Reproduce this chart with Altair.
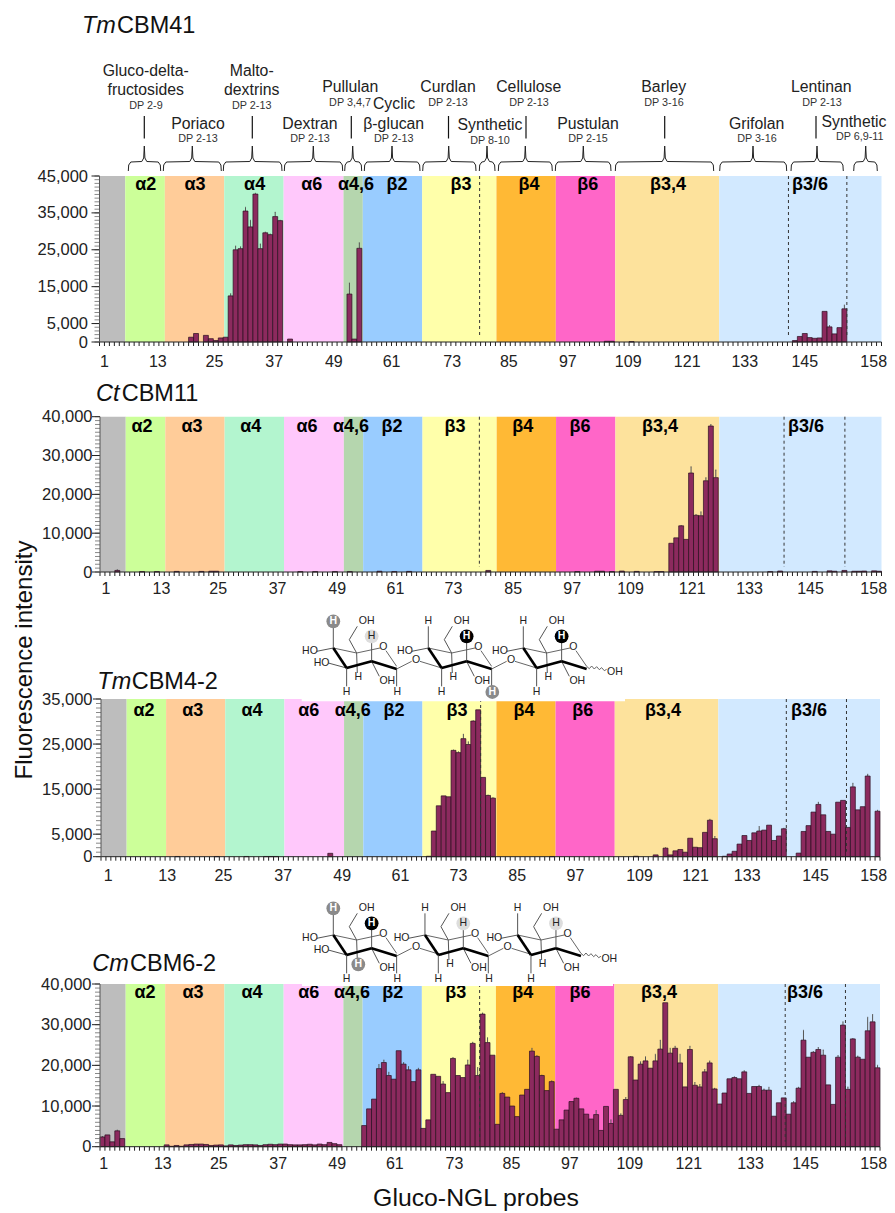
import altair as alt
import pandas as pd

FONT = "Liberation Sans"
W, H = 879, 1204
M = 8  # page margin

# ---------- values (thousands of RFU) ----------
tm41 = {19:1.3,20:2.3,22:1.8,23:0.9,24:0.4,25:1.1,26:1.3,27:12.5,28:25.0,29:25.3,30:35.5,31:31.2,32:40.1,
        33:25.3,34:29.6,35:29.1,36:34.0,37:32.9,39:0.8,51:13.0,52:0.8,53:25.4,103:0.2,104:0.2,108:0.1,
        141:0.4,142:1.5,143:2.3,144:1.2,145:1.0,146:1.1,147:8.3,148:4.1,149:2.2,150:3.9,151:9.0}
tm41_err = {27:0.6,28:1.0,29:0.5,30:1.0,31:1.8,32:0.2,33:1.3,34:0.2,35:0.2,36:1.2,37:0.1,51:3.0,53:1.5,148:0.4,151:1.0}

ct11 = {4:0.4,9:0.1,12:0.1,16:0.15,21:0.15,23:0.2,24:0.2,41:0.1,44:0.1,48:0.1,51:0.1,57:0.2,60:0.1,63:0.15,
        79:0.4,97:0.1,101:0.2,102:0.2,104:0.1,106:0.25,109:0.15,113:0.1,114:0.1,116:7.4,117:8.8,118:11.9,119:8.4,120:25.5,
        121:14.6,122:14.5,123:23.5,124:37.6,125:24.3,136:0.1,138:0.25,145:0.15,148:0.3,149:0.2,151:0.4,
        153:0.2,154:0.2,155:0.25,157:0.3,158:0.2}
ct11_err = {118:0.1,120:1.6,121:0.2,122:1.0,123:0.8,124:0.4,125:2.0,4:0.2}

tm42 = {16:0.05,24:0.05,30:0.05,34:0.05,35:0.05,36:0.05,47:0.75,67:0.1,68:5.7,69:11.3,70:13.5,71:13.3,72:23.6,73:23.1,74:26.2,
        75:24.9,76:30.1,77:32.6,78:17.6,79:13.6,80:13.0,92:0.05,109:0.1,113:0.4,115:1.9,116:0.4,117:1.3,118:1.6,
        119:1.0,120:4.1,121:2.1,122:2.0,123:5.4,124:8.1,125:4.0,127:0.1,128:0.6,129:1.2,130:2.8,131:4.7,132:3.6,
        133:5.3,134:5.7,135:5.9,136:7.0,137:3.6,138:4.6,139:6.2,142:0.8,143:5.6,144:6.9,145:9.9,146:11.6,
        147:9.3,148:5.6,149:5.0,150:12.1,151:12.5,152:6.5,153:15.5,154:10.4,155:11.1,156:17.9,158:10.1}
tm42_err = {72:0.1,73:0.2,74:1.0,75:0.6,76:0.1,79:0.1,80:0.1,115:0.1,124:0.2,125:0.5,134:1.0,139:0.1,146:0.5,
            153:0.8,156:0.4,158:0.2}

cm62 = [2.4,2.9,1.2,3.9,2.0,0,0,0,0,0,0,0,0,0.45,0.1,0.3,0.1,0.45,0.55,0.65,
        0.65,0.55,0.3,0.4,0.45,0.2,0.45,0.3,0.4,0.5,0.5,0.45,0.3,0.5,0.6,0.5,0.65,0.65,0.5,0.45,
        0.45,0.5,0.6,0.45,0.65,0.5,1.05,0.75,0.5,0,0,0,0,5.2,9.3,11.7,19.2,20.7,17.5,16.6,
        23.6,20.3,18.9,16.0,18.9,4.5,6.6,17.8,17.3,15.4,13.3,21.7,17.5,17.0,20.1,25.4,17.5,32.6,25.6,22.5,
        5.5,13.1,12.2,10.0,7.4,12.7,14.1,23.5,22.2,17.5,13.8,16.0,4.3,6.6,9.0,11.1,11.9,9.3,8.0,6.8,
        7.9,4.0,9.9,5.7,14.1,7.7,11.6,22.1,16.4,20.3,21.1,19.3,21.1,24.0,35.4,23.0,24.2,20.6,14.7,23.9,
        15.1,14.7,18.4,20.6,14.2,10.5,13.2,16.7,17.0,16.7,18.4,13.1,14.8,14.8,13.9,13.9,7.5,10.8,12.0,8.0,
        10.8,14.4,26.2,22.0,23.2,23.9,22.5,15.2,10.4,22.0,29.9,14.1,26.5,22.0,21.5,28.5,30.7,19.4]
cm62_err = {1:0.1,4:0.2,57:1.0,58:0.6,59:0.8,62:0.4,63:0.8,65:0.4,70:0.6,72:0.2,75:1.2,76:0.3,77:2.0,78:0.3,79:1.2,
            82:0.2,88:0.7,89:0.2,90:0.1,92:0.2,97:0.1,101:1.0,104:0.9,106:0.4,107:0.5,108:0.1,110:0.6,111:1.0,
            113:1.6,114:2.2,116:1.2,117:0.5,118:2.1,120:0.8,121:0.7,122:0.6,123:0.6,124:0.5,125:0.2,129:0.2,
            131:0.3,134:0.3,135:0.3,136:0.7,141:0.3,142:0.2,143:2.4,145:0.2,146:0.5,147:1.3,150:0.4,151:0.8,
            152:0.6,153:0.1,154:0.3,156:3.3,157:1.8,158:0.6}

band_edges = [0,5.2,13.2,25.2,37.2,49.3,53.2,65.2,80.2,92.2,104.2,125.2,158]
band_colors = ["#bdbdbd","#ccff99","#ffcc99","#b3f5cf","#ffc8fb","#b5d6ae","#99ccff","#ffffaa","#ffb935","#ff66c8","#fde29c","#d2e9ff"]
band_names = ["α2","α3","α4","α6","α4,6","β2","β3","β4","β6","β3,4","β3/6"]
tick_names = ["1","13","25","37","49","61","73","85","97","109","121","133","145","158"]

# ---------- layout of the four panels (page pixels) ----------
panels = [
 dict(name=("Tm","CBM41"), name_x=(82,117), name_y=33, x0=99.5, x1=881.5, top=176, bot=342, dom=45000, vals=tm41, err=tm41_err,
      majors=[0,5000,15000,25000,35000,45000], pad=4, lab_dy=19.7,
      lab_px=[99.5,157.3,214,273.7,333.3,391,451.7,508.3,567.3,627.7,686.7,744.3,804.3,873.2],
      band_px=[145.7,195,254.6,311.7,356,397,461,529,587.7,668,810], band_y=185, dash=[76.8,139.2,151]),
 dict(name=("Ct","CBM11"), name_x=(96,121.7), name_y=400.7, x0=100, x1=881.5, top=416.7, bot=572, dom=40000, vals=ct11, err=ct11_err,
      majors=[0,10000,20000,30000,40000], pad=0, lab_dy=16,
      lab_px=[101,161,217.7,277,336.7,395,453,512.7,571.7,630,691.7,749,810,873.2],
      band_px=[142,192,250.7,307,351,392,455,522.7,580,660,806], band_y=426.7, dash=[76.7,138.3,150.6]),
 dict(name=("Tm","CBM4-2"), name_x=(97.3,131.7), name_y=689, x0=101, x1=880, top=699, bot=856.7, dom=35000, vals=tm42, err=tm42_err,
      majors=[0,5000,15000,25000,35000], pad=1, lab_dy=18.3,
      lab_px=[107.7,166.7,223,282.7,341.7,400,458,516.7,575,639,695,746.7,815,873.2],
      band_px=[144,192.7,252,308.7,352.7,394,457,524,582.7,663,809], band_y=710.7, dash=[77,139,151.2]),
 dict(name=("Cm","CBM6-2"), name_x=(92.3,130), name_y=971, x0=100, x1=880, top=984, bot=1146.7, dom=40000, vals=cm62, err=cm62_err,
      majors=[0,10000,20000,30000,40000], pad=1, lab_dy=16.3,
      lab_px=[103.3,162.3,218.3,277.7,336.7,394.3,454,511,569.3,629.3,688.3,750,805,873.2],
      band_px=[145,193,252,308.7,352,392.7,455.7,522.7,580,659,805], band_y=993.3, dash=[76.9,138.8,151]),
]

# ---------- annotations at the top ----------
ann_big = [("Gluco-delta-",145.7,71),("fructosides",145.7,90),("Poriaco",198,123.7),("Malto-",251.7,71),("dextrins",251.7,90),
           ("Dextran",310,123.7),("Pullulan",350.3,87.3),("Cyclic",394,104.3),("β-glucan",393.7,123.7),("Curdlan",448,87.3),
           ("Synthetic",490,125),("Cellulose",528.7,87.3),("Pustulan",588,123.7),("Barley",663.7,87.3),("Grifolan",756.7,123.7),
           ("Lentinan",821.3,87.3),("Synthetic",854,122)]
ann_small = [("DP 2-9",146,105.5),("DP 2-13",198,139),("DP 2-13",251.7,105.5),("DP 2-13",310,139),("DP 3,4,7",350,103),
             ("DP 2-13",393.7,139),("DP 2-13",448,103),("DP 8-10",490,140.7),("DP 2-13",529,103),("DP 2-15",588,139),
             ("DP 3-16",664,103),("DP 3-16",757,139),("DP 2-13",822,103),("DP 6,9-11",859.7,137.3)]
ann_rules = [144.3,252.3,351.3,448.5,526,664.7,816]
braces = [(128.3,160.7,144.3),(163.3,221.3,192.3),(223.3,282,252.3),(284.3,342.7,313.3),(344.7,361.7,352.7),(364.3,420,392),
          (422.7,476,448.7),(479.3,495,487),(498.3,552.3,525.3),(555.3,611,583.3),(615.3,713.7,664.7),(719.7,786.7,753),
          (791,843.3,817),(853.7,877.3,865.7)]

# ---------- helpers ----------
def px_x(field="x"): return alt.X(f"{field}:Q", scale=None, axis=None)
def px_y(field="y"): return alt.Y(f"{field}:Q", scale=None, axis=None)

def text_layer(rows, size, color="#222222", weight="normal", style="normal", align="center", baseline="middle", angle=0):
    d = pd.DataFrame([{"t":t,"x":x-M,"y":y-M} for t,x,y in rows])
    return alt.Chart(d).mark_text(font=FONT, fontSize=size, color=color, fontWeight=weight, fontStyle=style,
                                  align=align, baseline=baseline, angle=angle).encode(x=px_x(), y=px_y(), text="t:N")

def seg_layer(segs, color, width):
    d = pd.DataFrame([{"x":a-M,"y":b-M,"x2":c-M,"y2":e-M} for a,b,c,e in segs])
    return alt.Chart(d).mark_rule(color=color, strokeWidth=width).encode(x=px_x(), y=px_y(), x2="x2:Q", y2="y2:Q")

layers = []

for p in panels:
    top, bot = p["top"]-M, p["bot"]-M
    left = p["x0"]-M
    right = p["x1"]-M
    xs = alt.Scale(domain=[0,158], range=[left, right], nice=False, zero=False)
    ys = alt.Scale(domain=[0,p["dom"]], range=[bot, top], nice=False, zero=False)
    unit = (p["x1"]-p["x0"])/158
    lab_units = [round((v-p["x0"])/unit,2) for v in p["lab_px"]]
    names_js = "[" + ",".join(f"'{n}'" for n in tick_names) + "]"
    vals_js = "[" + ",".join(str(v) for v in lab_units) + "]"

    vals = p["vals"]
    if isinstance(vals, dict):
        rows = [(i, vals[i]) for i in sorted(vals)]
    else:
        rows = [(i+1, v) for i, v in enumerate(vals) if v > 0]
    df = pd.DataFrame([{"a":i-1,"b":i,"mid":i-0.5,"v":v*1000,"z":0,"e":(v+p["err"].get(i,0))*1000,"has":i in p["err"]} for i,v in rows])
    edf = df[df["has"]]

    bands = pd.DataFrame({"a":band_edges[:-1],"b":band_edges[1:],"c":band_colors})
    layers.append(alt.Chart(bands).mark_rect(strokeWidth=0).encode(
        x=alt.X("a:Q", scale=xs, axis=None), x2="b:Q",
        y=alt.value(top), y2=alt.value(bot),
        color=alt.Color("c:N", scale=None, legend=None)))

    # error bars, bars
    layers.append(alt.Chart(edf).mark_rule(color="#555555", strokeWidth=1).encode(
        x=alt.X("mid:Q", scale=xs, axis=None), y=alt.Y("v:Q", scale=ys, axis=None), y2="e:Q"))
    layers.append(alt.Chart(edf).mark_tick(color="#555555", orient="horizontal", size=1, thickness=1, width=3).encode(
        x=alt.X("mid:Q", scale=xs, axis=None), y=alt.Y("e:Q", scale=ys, axis=None)))
    layers.append(alt.Chart(df).mark_rect(fill="#8c2a5e", stroke="#2a0f20", strokeWidth=0.7).encode(
        x=alt.X("a:Q", scale=xs, axis=alt.Axis(orient="bottom", offset=-(H-bot), values=lab_units, ticks=False, domain=False,
                                               title=None, grid=False, labelFont=FONT, labelFontSize=16, labelColor="#222222",
                                               labelPadding=p["lab_dy"]-8, labelOverlap=False, labelBound=False,
                                               labelExpr=f"{names_js}[indexof({vals_js},datum.value)]")),
        x2="b:Q",
        y=alt.Y("v:Q", scale=ys, axis=alt.Axis(orient="left", offset=-left, values=p["majors"], format=",.0f", ticks=False, domain=False,
                                               title=None, grid=False,
                                               labelFont=FONT, labelFontSize=16.5, labelColor="#222222", labelPadding=p["pad"]+8)),
        y2="z:Q"))
    # tick marks and axis lines
    xt = pd.DataFrame({"u":list(range(159))})
    layers.append(alt.Chart(xt).mark_rule(color="#222222", strokeWidth=1).encode(
        x=alt.X("u:Q", scale=xs, axis=None), y=alt.value(bot), y2=alt.value(bot+4)))
    yminor = pd.DataFrame({"v":list(range(0,p["dom"]+1,1000))})
    layers.append(alt.Chart(yminor).mark_rule(color="#888888", strokeWidth=1).encode(
        y=alt.Y("v:Q", scale=ys, axis=None), x=alt.value(left-5), x2=alt.value(left)))
    ymajor = pd.DataFrame({"v":p["majors"]})
    layers.append(alt.Chart(ymajor).mark_rule(color="#222222", strokeWidth=1).encode(
        y=alt.Y("v:Q", scale=ys, axis=None), x=alt.value(left-8), x2=alt.value(left)))
    layers.append(alt.Chart(pd.DataFrame({"k":[0]})).mark_rule(color="#222222", strokeWidth=1).encode(
        x=alt.value(left), x2=alt.value(right), y=alt.value(bot)))
    layers.append(alt.Chart(pd.DataFrame({"k":[0]})).mark_rule(color="#555555", strokeWidth=1).encode(
        x=alt.value(left), y=alt.value(top), y2=alt.value(bot)))
    # dashed separators
    dd = pd.DataFrame({"u":p["dash"]})
    layers.append(alt.Chart(dd).mark_rule(color="#333333", strokeWidth=1, strokeDash=[3,3]).encode(
        x=alt.X("u:Q", scale=xs, axis=None), y=alt.value(top), y2=alt.value(bot-5)))
    # band labels
    layers.append(text_layer([(n,x,p["band_y"]) for n,x in zip(band_names,p["band_px"])], 18, color="#000000", weight="bold"))
    # titles
    layers.append(text_layer([(p["name"][0],p["name_x"][0],p["name_y"])], 23.5, color="#111111", style="italic", align="left", baseline="alphabetic"))
    layers.append(text_layer([(p["name"][1],p["name_x"][1],p["name_y"])], 23.5, color="#111111", align="left", baseline="alphabetic"))

# annotations
layers.append(text_layer(ann_big, 15.8))
layers.append(text_layer(ann_small, 10.8, color="#333333"))
layers.append(seg_layer([(x,116,x,138.5) for x in ann_rules], "#111111", 1.2))
brace_rows = []
for k,(x0,x1,xm) in enumerate(braces):
    pts = [(x0,171),(x0+0.4,165),(x0+2.5,162),(xm-2.5,161.5),(xm-0.6,158),(xm,146),(xm+0.6,158),(xm+2.5,161.5),(x1-2.5,162),(x1-0.4,165),(x1,171)]
    for i,(a,b) in enumerate(pts):
        brace_rows.append({"k":k,"i":i,"x":a-M,"y":b-M})
layers.append(alt.Chart(pd.DataFrame(brace_rows)).mark_line(color="#222222", strokeWidth=1).encode(
    x=px_x(), y=px_y(), detail="k:N", order="i:Q"))

# axis titles
layers.append(text_layer([("Fluorescence intensity",25,660)], 24, color="#111111", angle=270))
layers.append(text_layer([("Gluco-NGL probes",476,1199)], 24.8, color="#111111"))

# ---------- chemical structures ----------
thin = [(190,55,158,8),(140,0,70,15),(70,15,0,0)]
thick = [(0,0,40,60),(40,60,115,40),(115,40,190,63)]
subs = [(0,0,0,-65),(0,0,-50,10),(40,60,40,115),(70,15,48,-25),(48,-25,72,-65),(70,15,72,75),(115,40,115,-20),(115,40,138,85),(190,63,190,115)]
link = [(190,63,235,40),(260,40,325,60)]
ring_atoms = {"H4":(0,-80,"H"),"OH6":(100,-82,"OH"),"H2":(115,-35,"H"),"HO4":(-70,10,"HO"),"H5":(75,88,"H"),
              "OH2":(162,98,"OH"),"H3":(40,132,"H"),"H1":(192,132,"H"),"O5":(150,-2,"O"),"OL":(248,35,"O")}
wave = [(190,55),(198,62),(205,54),(213,63),(220,56),(228,65),(235,59),(243,68),(250,64)]

structures = [
 dict(ox=333.3, oy=648, dx=[0,285,570], patch=(301.7,625,699,701.3),
      marks=[(0,"H4","#8a8a8a","#ffffff"),(0,"H2","#dddddd","#222222"),(1,"H2","#000000","#ffffff"),(1,"H1","#8a8a8a","#ffffff"),(2,"H2","#000000","#ffffff")]),
 dict(ox=333.3, oy=935, dx=[0,275,553], patch=(302,613,984,986),
      marks=[(0,"H4","#8a8a8a","#ffffff"),(0,"H2","#000000","#ffffff"),(0,"H5","#8a8a8a","#ffffff"),(1,"H2","#dddddd","#222222"),(2,"H2","#dddddd","#222222")]),
]
for s in structures:
    def P(r, a, b):
        return s["ox"]+(s["dx"][r]+a)/3, s["oy"]+b/3
    tseg, kseg, sseg, circ = [], [], [], []
    labs = {"#222222":[], "#ffffff":[]}
    markd = {(r,k):(c,tc) for r,k,c,tc in s["marks"]}
    a,b,c,d = s["patch"]
    layers.append(alt.Chart(pd.DataFrame([{"x":a-M,"x2":b-M,"y":c-M,"y2":d-M}])).mark_rect(color="#ffffff").encode(
        x=px_x(), x2="x2:Q", y=px_y(), y2="y2:Q"))
    for r in range(3):
        for q in thin:  tseg.append(P(r,q[0],q[1])+P(r,q[2],q[3]))
        for q in thick: kseg.append(P(r,q[0],q[1])+P(r,q[2],q[3]))
        for q in subs:
            if r==2 and q==(190,63,190,115): continue
            sseg.append(P(r,q[0],q[1])+P(r,q[2],q[3]))
        if r<2:
            for q in link: tseg.append(P(r,q[0],q[1])+P(r,q[2],q[3]))
        if r==0:
            sseg.append(P(0,40,60)+P(0,-15,45))
        for k,(ax,ay,t) in ring_atoms.items():
            if r==2 and k in ("H1","OL"): continue
            if (r,k) in markd:
                col,tc = markd[(r,k)]
                circ.append({"x":P(r,ax,ay)[0]-M,"y":P(r,ax,ay)[1]-M,"c":col})
                labs[tc].append((t,)+P(r,ax,ay))
            else:
                labs["#222222"].append((t,)+P(r,ax,ay))
    labs["#222222"].append(("HO",)+P(0,-35,44))
    labs["#222222"].append(("OH",)+P(2,275,72))
    for i in range(len(wave)-1):
        tseg.append(P(2,*wave[i])+P(2,*wave[i+1]))
    layers.append(seg_layer(sseg,"#555555",1))
    layers.append(seg_layer(tseg,"#555555",0.9))
    layers.append(seg_layer(kseg,"#000000",2.6))
    layers.append(alt.Chart(pd.DataFrame(circ)).mark_circle(size=190, opacity=1).encode(
        x=px_x(), y=px_y(), color=alt.Color("c:N", scale=None, legend=None)))
    layers.append(text_layer(labs["#222222"], 10.5, color="#222222"))
    layers.append(text_layer(labs["#ffffff"], 10.5, color="#ffffff", weight="bold"))

chart = alt.layer(*layers).resolve_scale(x="independent", y="independent").resolve_axis(x="independent", y="independent").properties(
    width=W, height=H, padding=0, autosize=alt.AutoSizeParams(type="none")
).configure_view(stroke=None)

chart.save("out.html", embed_options={"renderer": "svg", "actions": False})
